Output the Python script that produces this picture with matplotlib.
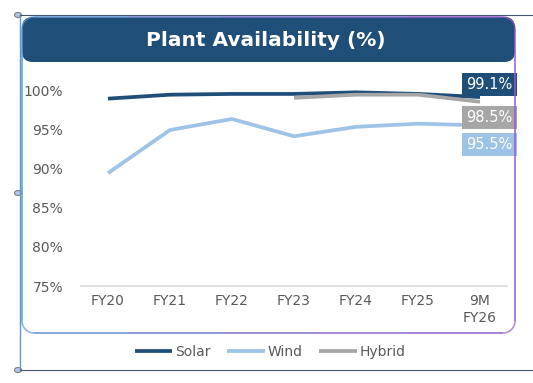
import numpy as np
import matplotlib
matplotlib.use("Agg")
import matplotlib.pyplot as plt
from matplotlib.patches import FancyBboxPatch, Circle
from matplotlib.collections import LineCollection

# data
categories = ["FY20", "FY21", "FY22", "FY23", "FY24", "FY25", "9M\nFY26"]
solar = [98.9, 99.4, 99.5, 99.5, 99.7, 99.5, 99.1]
wind = [89.4, 94.9, 96.3, 94.1, 95.3, 95.7, 95.5]
hybrid = [None, None, None, 99.0, 99.4, 99.4, 98.5]
yticks = [75, 80, 85, 90, 95, 100]

NAVY = "#1f4e79"
LIGHT = "#9dc3e6"
GREY = "#a6a6a6"
TXT = "#595959"

W, H = 533, 383
fig = plt.figure(figsize=(W / 100, H / 100), dpi=100)


def fx(px):
    return px / W


def fy(py):
    return 1 - py / H


# outer decorations (selection frame lines + handles)
fig.add_artist(plt.Line2D([fx(20), fx(20)], [fy(15), fy(370)], color="#5b9bd5", lw=1.0))
fig.add_artist(plt.Line2D([fx(20), fx(533)], [fy(15), fy(15)], color="#44546a", lw=0.8))
fig.add_artist(plt.Line2D([fx(20), fx(533)], [fy(370), fy(370)], color="#44546a", lw=0.8))
for hy in (15, 193, 370):
    fig.add_artist(Circle((fx(18), fy(hy)), 3.5 / W, transform=fig.transFigure,
                          facecolor="#b4c7e7", edgecolor="#7f7f7f", lw=0.8))

# rounded frame with blue -> purple border
x0, x1, y0, y1, r = 22, 515, 17, 333, 12
t = np.linspace(0, np.pi / 2, 20)
pts = []
for cx, cy, a0 in [(x1 - r, y1 - r, 0), (x0 + r, y1 - r, np.pi / 2),
                   (x0 + r, y0 + r, np.pi), (x1 - r, y0 + r, 1.5 * np.pi)]:
    ang = a0 + t
    pts += list(zip(cx + r * np.cos(ang), cy + r * np.sin(ang)))
pts.append(pts[0])
pts = np.array(pts)
dense = []
for a, b in zip(pts[:-1], pts[1:]):
    for s in np.linspace(0, 1, 6)[:-1]:
        dense.append(a + (b - a) * s)
dense.append(pts[0])
dense = np.array(dense)
segs = np.stack([dense[:-1], dense[1:]], axis=1)
segs_fig = np.stack([segs[..., 0] / W, 1 - segs[..., 1] / H], axis=-1)
cmap = matplotlib.colors.LinearSegmentedColormap.from_list("b", ["#5b9bd5", "#7f6fc8", "#9b59d0"])
mid = (segs[:, 0, 0] + segs[:, 1, 0]) / 2
lc = LineCollection(segs_fig, colors=cmap((mid - x0) / (x1 - x0)), lw=1.1,
                    transform=fig.transFigure)
fig.add_artist(lc)

# title banner
banner = FancyBboxPatch((fx(22), fy(62)), fx(515) - fx(22), fy(17) - fy(62),
                        boxstyle="round,pad=0,rounding_size=0.02",
                        transform=fig.transFigure, facecolor=NAVY, edgecolor="none",
                        mutation_aspect=W / H)
fig.add_artist(banner)
fig.text(fx(266), fy(40), "Plant Availability (%)", color="white", fontsize=14.5,
         fontweight="bold", ha="center", va="center")

# plot area
ax = fig.add_axes([fx(77), fy(286), fx(511) - fx(77), fy(90) - fy(286)])
ax.set_facecolor("none")
x = np.arange(len(categories))
hy_arr = np.array([np.nan if v is None else v for v in hybrid])
ax.plot(x, solar, color=NAVY, lw=2.7, label="Solar", solid_capstyle="butt", zorder=3)
ax.plot(x, wind, color=LIGHT, lw=2.7, label="Wind", solid_capstyle="butt", zorder=2)
ax.plot(x, hy_arr, color=GREY, lw=2.7, label="Hybrid", solid_capstyle="butt", zorder=4)

ax.set_xlim(-0.5, len(categories) - 0.5)
ax.set_ylim(75, 100)
ax.set_yticks(yticks)
ax.set_yticklabels([f"{v}%" for v in yticks])
ax.set_xticks(x)
ax.set_xticklabels(categories)
ax.tick_params(length=0, colors=TXT, labelsize=10)
ax.tick_params(axis="y", pad=10)
ax.tick_params(axis="x", pad=6)
for s in ax.spines.values():
    s.set_visible(False)
ax.axhline(75, xmin=0.01, xmax=0.99, color="#d9d9d9", lw=1.2, zorder=1, clip_on=False)

# end-point labels (offsets in pixels from the last point)
last = len(categories) - 1
for vals, col, dy in [(solar, NAVY, 12.6), (hybrid, GREY, -15.7), (wind, LIGHT, -19.2)]:
    ax.annotate(f"{vals[last]:.1f}%", (last, vals[last]), xytext=(6.5, dy * 0.72),
                textcoords="offset points", ha="center", va="center", color="white",
                fontsize=10.5, annotation_clip=False, zorder=6,
                bbox=dict(boxstyle="square,pad=0.3", facecolor=col, edgecolor="none"))

fig.legend(loc="center", bbox_to_anchor=(fx(270), fy(352)), ncol=3, frameon=False,
           fontsize=10, labelcolor=TXT, handlelength=2.7, handletextpad=0.2,
           columnspacing=1.2)

fig.savefig("out.png", dpi=100)
